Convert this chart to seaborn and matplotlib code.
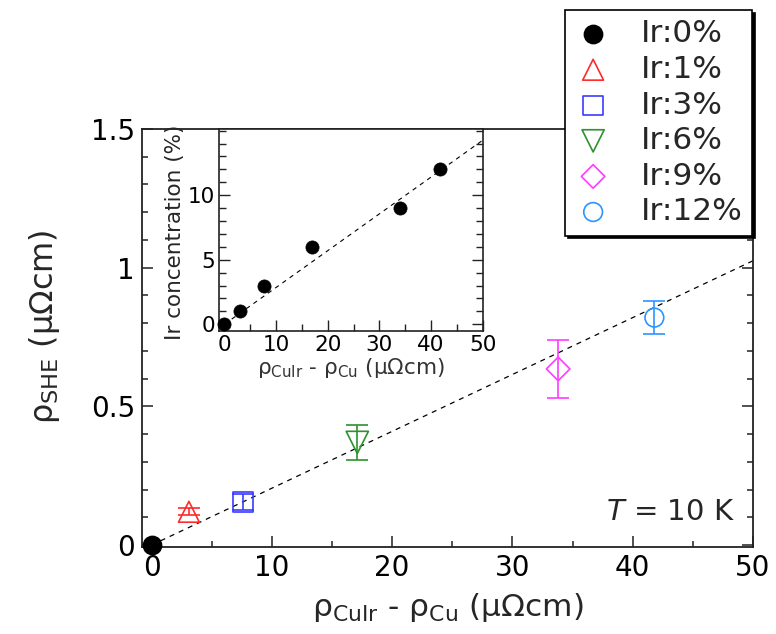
import numpy as np
import pandas as pd
import matplotlib
matplotlib.use("Agg")
import matplotlib.pyplot as plt
import seaborn as sns
from matplotlib.ticker import FixedLocator, MultipleLocator

# ---------------- data ----------------
labels = ["Ir:0%", "Ir:1%", "Ir:3%", "Ir:6%", "Ir:9%", "Ir:12%"]
rho_diff = [0.0, 3.1, 7.6, 17.1, 33.8, 41.8]          # rho_CuIr - rho_Cu (uOhm cm)
rho_she = [0.0, 0.12, 0.155, 0.37, 0.635, 0.82]       # rho_SHE (uOhm cm)
rho_she_err = [0.0, 0.012, 0.03, 0.062, 0.105, 0.059]
colors = ["black", "#ff2a2a", "#3b3bff", "#2e922e", "#ff3cff", "#2b95ff"]
markers = ["o", "^", "s", "v", "D", "o"]
filled = [True, False, False, False, False, False]
msizes = [170, 225, 196, 256, 144, 182]

fit_x = [0, 50]
fit_y = [0, 1.025]

inset_x = [0.0, 3.0, 7.6, 17.0, 33.9, 41.8]
inset_conc = [0, 1, 3, 6, 9, 12]
inset_fit_x = [0, 50]
inset_fit_y = [0, 14.25]

main_xticks = [0, 10, 20, 30, 40, 50]
main_yticks = [0, 0.5, 1.0, 1.5]
main_yticklabels = ["0", "0.5", "1", "1.5"]
inset_xticks = [0, 10, 20, 30, 40, 50]
inset_yticks = [0, 5, 10]

# ---------------- style ----------------
sns.set_theme(style="ticks")
plt.rcParams["font.family"] = ["DejaVu Sans"]
plt.rcParams["mathtext.fontset"] = "dejavusans"
plt.rcParams["axes.edgecolor"] = "#222222"

fig = plt.figure(figsize=(7.76, 6.34), dpi=100)
ax = fig.add_axes([142 / 776, 1 - 547 / 634, (753 - 142) / 776, (547 - 129) / 634])

# fit line
sns.lineplot(x=fit_x, y=fit_y, ax=ax, color="black", lw=0.9,
             linestyle=(0, (4, 4)), legend=False)

for i in range(len(labels)):
    c = colors[i]
    if rho_she_err[i] > 0:
        ax.errorbar([rho_diff[i]], [rho_she[i]], yerr=[rho_she_err[i]], fmt="none",
                    ecolor=c, elinewidth=1.2, capsize=8, capthick=1.2, zorder=3)
    sns.scatterplot(x=[rho_diff[i]], y=[rho_she[i]], ax=ax, marker=markers[i],
                    s=msizes[i], facecolor=(c if filled[i] else "none"),
                    edgecolor=c, linewidth=1.2, label=labels[i], legend=False,
                    zorder=4, clip_on=False)

ax.set_xlim(-0.8, 50)
ax.set_ylim(-0.007, 1.5)
ax.xaxis.set_major_locator(FixedLocator(main_xticks))
ax.xaxis.set_minor_locator(MultipleLocator(5))
ax.yaxis.set_major_locator(FixedLocator(main_yticks))
ax.set_yticklabels(main_yticklabels)
ax.yaxis.set_minor_locator(MultipleLocator(0.1))
ax.tick_params(which="both", direction="in", left=True, right=True,
               bottom=True, top=False, colors="#222222", labelcolor="black",
               labelsize=20)
ax.tick_params(which="major", length=8, width=1.1, pad=5)
ax.tick_params(which="minor", length=4, width=1.1)
for sp in ax.spines.values():
    sp.set_linewidth(1.3)

ax.set_xlabel(r"ρ$_{\mathrm{CuIr}}$ - ρ$_{\mathrm{Cu}}$ (μΩcm)", fontsize=22.5)
ax.xaxis.set_label_coords(0.5, (547 - 608) / 418)
ax.xaxis.label.set_va("center")
ax.set_ylabel(r"ρ$_{\mathrm{SHE}}$ (μΩcm)", fontsize=23)
ax.yaxis.set_label_coords((45 - 142) / 611, (547 - 327) / 418)
ax.yaxis.label.set_va("center")

ax.text(0.97, 0.065, r"$T$ = 10 K", transform=ax.transAxes, ha="right",
        va="baseline", fontsize=21)

# ---------------- inset ----------------
axi = fig.add_axes([219.3 / 776, 1 - 330.7 / 634, (482.7 - 219.3) / 776,
                    (330.7 - 129.3) / 634])
sns.lineplot(x=inset_fit_x, y=inset_fit_y, ax=axi, color="black", lw=0.8,
             linestyle=(0, (4, 4)), legend=False)
sns.scatterplot(x=inset_x, y=inset_conc, ax=axi, color="black", s=90,
                edgecolor="black", linewidth=0.5, legend=False, zorder=4,
                clip_on=False)
axi.set_xlim(-1, 50)
axi.set_ylim(-0.5, 15.1)
axi.xaxis.set_major_locator(FixedLocator(inset_xticks))
axi.xaxis.set_minor_locator(MultipleLocator(5))
axi.yaxis.set_major_locator(FixedLocator(inset_yticks))
axi.yaxis.set_minor_locator(MultipleLocator(1))
axi.tick_params(which="both", direction="in", left=True, right=True,
                bottom=True, top=False, colors="#222222", labelcolor="black",
                labelsize=15.5)
axi.tick_params(which="major", length=8, width=1.0, pad=3)
axi.tick_params(which="minor", length=5, width=1.0)
for sp in axi.spines.values():
    sp.set_linewidth(1.2)
axi.set_xlabel(r"ρ$_{\mathrm{CuIr}}$ - ρ$_{\mathrm{Cu}}$ (μΩcm)", fontsize=15.5,
               color="#333333")
axi.xaxis.set_label_coords(0.5, (330.7 - 368) / 201.4)
axi.xaxis.label.set_va("center")
axi.set_ylabel("Ir concentration (%)", fontsize=15.5)
axi.yaxis.set_label_coords((175 - 219.3) / 263.4, (330.7 - 232) / 201.4)
axi.yaxis.label.set_va("center")

# ---------------- legend ----------------
handles, labs = ax.get_legend_handles_labels()
leg = fig.legend(handles, labs, loc="upper left",
                 bbox_to_anchor=(565 / 776, 1 - 10 / 634),
                 frameon=True, fancybox=False, framealpha=1,
                 shadow={"color": "black", "alpha": 1},
                 edgecolor="black", fontsize=22.5, borderpad=0.3,
                 handlelength=1.2, handletextpad=0.93, labelspacing=0.21,
                 borderaxespad=0)
leg.get_frame().set_linewidth(1.2)
leg.set_zorder(10)

fig.savefig("out.png", dpi=100)
